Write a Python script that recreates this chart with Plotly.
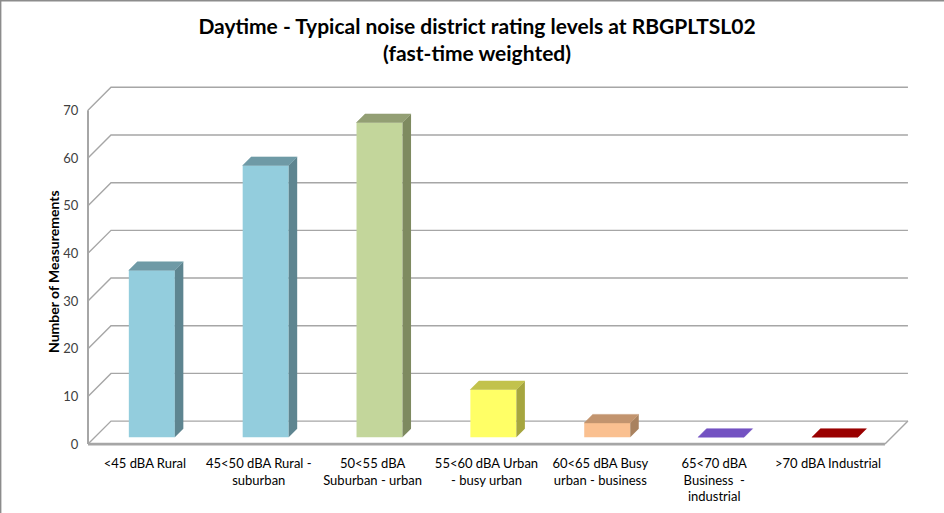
import plotly.graph_objects as go

# ---------------- data ----------------
categories = [
    "<45 dBA Rural",
    "45<50 dBA Rural -<br>suburban",
    "50<55 dBA<br>Suburban - urban",
    "55<60 dBA Urban<br>- busy urban",
    "60<65 dBA Busy<br>urban - business",
    "65<70 dBA<br>Business  -<br>industrial",
    ">70 dBA Industrial",
]
values = [35, 57, 66, 10, 3, 0, 0]
y_ticks = [0, 10, 20, 30, 40, 50, 60, 70]

front_colors = ["#93CDDD", "#93CDDD", "#C3D69B", "#FFFF66", "#FAC090", "#7352C2", "#9A0000"]
top_colors = ["#6F9AA6", "#6F9AA6", "#939F74", "#C2C24C", "#C2946E", "#7352C2", "#9A0000"]
side_colors = ["#5E8590", "#5E8590", "#7E8A60", "#A6A63F", "#A9825F", "#5E43A0", "#7A0000"]

title_text = "Daytime - Typical noise district rating levels at RBGPLTSL02<br>(fast-time weighted)"
y_title = "Number of Measurements"

# ---------------- geometry ----------------
W, H = 944, 513
L, R, T, B = 86, 34, 86, 67
xr = [-0.5176, 6.72]
yr = [-0.4, 75.1]
pw, ph = W - L - R, H - T - B
px_x = pw / (xr[1] - xr[0])
px_y = ph / (yr[1] - yr[0])
DEPTH = 23.0
DX = DEPTH / px_x
DY = DEPTH / px_y
f1, f2 = 0.30, 0.67
bw = 0.404
n = len(categories)
x_left, x_right = -0.5, n - 0.5

fig = go.Figure()

# front faces
xs = [i + f1 * DX for i in range(n)]
fig.add_trace(go.Bar(
    x=xs, y=values, base=[f1 * DY] * n, width=bw,
    marker=dict(color=front_colors, line=dict(width=0)),
    hoverinfo="skip", showlegend=False,
))

ddx = (f2 - f1) * DX
ddy = (f2 - f1) * DY
for i, v in enumerate(values):
    xl = xs[i] - bw / 2
    xrr = xs[i] + bw / 2
    base = f1 * DY
    top = base + v
    # side face
    if v > 0:
        fig.add_trace(go.Scatter(
            x=[xrr, xrr, xrr + ddx, xrr + ddx, xrr],
            y=[base, top, top + ddy, base + ddy, base],
            fill="toself", fillcolor=side_colors[i], mode="lines",
            line=dict(width=0), hoverinfo="skip", showlegend=False,
        ))
    # top face
    fig.add_trace(go.Scatter(
        x=[xl, xrr, xrr + ddx, xl + ddx, xl],
        y=[top, top, top + ddy, top + ddy, top],
        fill="toself", fillcolor=top_colors[i], mode="lines",
        line=dict(width=0.5, color=top_colors[i]), hoverinfo="skip", showlegend=False,
    ))

# gridlines (side wall diagonal + back wall)
shapes = []
gc = "#A6A6A6"
for v in y_ticks:
    shapes.append(dict(
        type="path", xref="x", yref="y", layer="below",
        path=f"M {x_left},{v} L {x_left + DX},{v + DY} L {x_right + DX},{v + DY}",
        line=dict(color=gc, width=1.4),
    ))
# front vertical axis
shapes.append(dict(type="line", xref="x", yref="y", layer="below",
                   x0=x_left, y0=0, x1=x_left, y1=y_ticks[-1],
                   line=dict(color=gc, width=2)))
# floor front edge
shapes.append(dict(type="line", xref="x", yref="y", layer="below",
                   x0=x_left, y0=0, x1=x_right, y1=0,
                   line=dict(color=gc, width=2.6)))
# floor right edge
shapes.append(dict(type="line", xref="x", yref="y", layer="below",
                   x0=x_right, y0=0, x1=x_right + DX, y1=DY,
                   line=dict(color=gc, width=1.4)))
# outer border
shapes.append(dict(type="rect", xref="paper", yref="paper", layer="above",
                   x0=(-L + 0.7) / pw, x1=(pw + R + 5) / pw,
                   y0=(-B - 5) / ph, y1=(ph + T - 0.7) / ph,
                   line=dict(color="#8C8C8C", width=1.4)))

fig.update_layout(
    width=W, height=H,
    margin=dict(l=L, r=R, t=T, b=B, autoexpand=False),
    paper_bgcolor="white", plot_bgcolor="white",
    shapes=shapes,
    showlegend=False,
    title=dict(text="<b>" + title_text.replace("<br>", "</b><br><b>") + "</b>",
               x=477 / W, xanchor="center", xref="container",
               y=1 - 34 / H, yanchor="top", yref="container",
               font=dict(family="Lato", size=21, color="#000000")),
    xaxis=dict(range=xr, tickmode="array", tickvals=list(range(n)), ticktext=categories,
               showgrid=False, zeroline=False, showline=False, automargin=False,
               ticks="outside", ticklen=5, tickcolor="rgba(0,0,0,0)",
               tickfont=dict(family="Lato", size=13, color="#000000"), tickangle=0),
    yaxis=dict(range=yr, tickmode="array", tickvals=y_ticks,
               showgrid=False, zeroline=False, showline=False, automargin=False,
               ticks="outside", ticklen=4, tickcolor="rgba(0,0,0,0)",
               tickfont=dict(family="Lato", size=13, color="#404040")),
    annotations=[dict(text="<b>" + y_title + "</b>", xref="paper", yref="paper",
                      x=(53 - L) / pw, y=(H - B - 272) / ph, xanchor="center", yanchor="middle",
                      textangle=-90, showarrow=False,
                      font=dict(family="Lato", size=14, color="#000000"))],
)

fig.write_html("out.html",
               config={"displayModeBar": False},
               post_script="document.body.style.margin='0';document.body.style.padding='0';"
                           "document.documentElement.style.overflow='hidden';")
